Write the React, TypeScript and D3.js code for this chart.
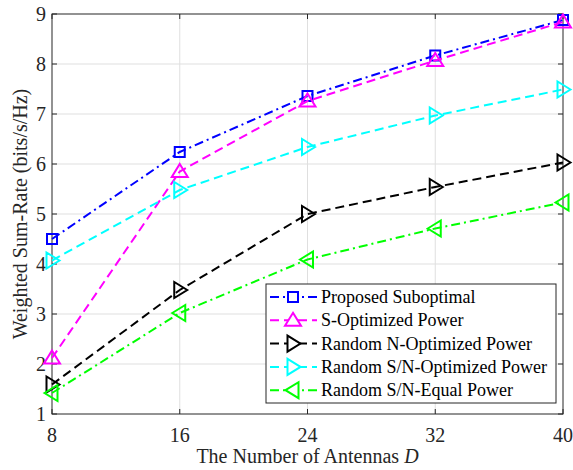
import * as React from 'react';
import * as d3 from 'd3';

const antennas = [8, 16, 24, 32, 40];
const xTicks = [8, 16, 24, 32, 40];
const yTicks = [1, 2, 3, 4, 5, 6, 7, 8, 9];

const proposed = [4.5, 6.24, 7.36, 8.17, 8.88];
const sOptimized = [2.12, 5.85, 7.26, 8.07, 8.84];
const randomN = [1.59, 3.48, 5.0, 5.54, 6.03];
const randomSN = [4.07, 5.48, 6.34, 6.97, 7.49];
const randomEqual = [1.42, 3.02, 4.09, 4.71, 5.23];

const seriesNames = [
  'Proposed Suboptimal',
  'S-Optimized Power',
  'Random N-Optimized Power',
  'Random S/N-Optimized Power',
  'Random S/N-Equal Power',
];

const series = [
  { name: seriesNames[0], values: proposed, color: '#0000ff', dash: '9,4,2,4', marker: 'square' },
  { name: seriesNames[1], values: sOptimized, color: '#ff00ff', dash: '9,5', marker: 'up' },
  { name: seriesNames[2], values: randomN, color: '#000000', dash: '9,5', marker: 'right' },
  { name: seriesNames[3], values: randomSN, color: '#00ffff', dash: '9,5', marker: 'right' },
  { name: seriesNames[4], values: randomEqual, color: '#00ff00', dash: '9,4,2,4', marker: 'left' },
];

const W = 573;
const H = 470;
const m = { left: 52, top: 14, right: 563, bottom: 414 };
const font = '"Liberation Serif", "Times New Roman", serif';

function markerPath(kind: string) {
  const s = 5;
  if (kind === 'square') return `M${-s},${-s}H${s}V${s}H${-s}Z`;
  if (kind === 'up') return 'M0,-7.5L8,5.5L-8,5.5Z';
  if (kind === 'right') return 'M7.5,0L-5.5,-8L-5.5,8Z';
  return 'M-7.5,0L5.5,-8L5.5,8Z';
}

function translate(x: number, y: number) {
  return `translate(${x},${y})`;
}

export default function App() {
  const x = d3.scaleLinear().domain([8, 40]).range([m.left, m.right]);
  const y = d3.scaleLinear().domain([1, 9]).range([m.bottom, m.top]);
  const line = d3
    .line<number>()
    .x((_, i) => x(antennas[i]))
    .y((d) => y(d));

  const legX = 266;
  const legY = 284;
  const legW = 290;
  const legH = 119;
  const rowH = 23.3;

  return (
    <div style={{ position: 'absolute', left: 0, top: 0 }}>
      <svg width={W} height={H} style={{ display: 'block', background: '#fff' }}>
        {/* grid */}
        <g stroke="#dfdfdf" strokeWidth={1}>
          {xTicks.slice(1, -1).map((t) => (
            <line key={'gx' + t} x1={x(t)} x2={x(t)} y1={m.top} y2={m.bottom} />
          ))}
          {yTicks.slice(1, -1).map((t) => (
            <line key={'gy' + t} x1={m.left} x2={m.right} y1={y(t)} y2={y(t)} />
          ))}
        </g>

        {/* box and ticks */}
        <rect x={m.left} y={m.top} width={m.right - m.left} height={m.bottom - m.top}
          fill="none" stroke="#262626" strokeWidth={1} />
        <g stroke="#262626" strokeWidth={1}>
          {xTicks.map((t) => (
            <g key={'tx' + t}>
              <line x1={x(t)} x2={x(t)} y1={m.bottom} y2={m.bottom - 5} />
              <line x1={x(t)} x2={x(t)} y1={m.top} y2={m.top + 5} />
            </g>
          ))}
          {yTicks.map((t) => (
            <g key={'ty' + t}>
              <line x1={m.left} x2={m.left + 5} y1={y(t)} y2={y(t)} />
              <line x1={m.right} x2={m.right - 5} y1={y(t)} y2={y(t)} />
            </g>
          ))}
        </g>
        <g fontFamily={font} fontSize={20} fill="#262626">
          {xTicks.map((t) => (
            <text key={'lx' + t} x={x(t)} y={m.bottom + 28} textAnchor="middle">{t}</text>
          ))}
          {yTicks.map((t) => (
            <text key={'ly' + t} x={m.left - 6} y={y(t) + 7} textAnchor="end">{t}</text>
          ))}
          <text x={(m.left + m.right) / 2} y={463} textAnchor="middle">
            The Number of Antennas <tspan fontStyle="italic">D</tspan>
          </text>
          <text transform={`translate(27,${(m.top + m.bottom) / 2}) rotate(-90)`} textAnchor="middle">
            Weighted Sum-Rate (bits/s/Hz)
          </text>
        </g>

        {/* series */}
        {series.map((s) => (
          <g key={s.name}>
            <path d={line(s.values) || ''} fill="none" stroke={s.color} strokeWidth={2}
              strokeDasharray={s.dash} />
            {s.values.map((v, i) => (
              <path key={i} d={markerPath(s.marker)} transform={translate(x(antennas[i]), y(v))}
                fill="none" stroke={s.color} strokeWidth={2} />
            ))}
          </g>
        ))}

        {/* legend */}
        <rect x={legX} y={legY} width={legW} height={legH} fill="#fff" stroke="#262626" strokeWidth={1} />
        {series.map((s, i) => {
          const cy = legY + 13 + i * rowH;
          return (
            <g key={'leg' + s.name}>
              <line x1={legX + 4} x2={legX + 51} y1={cy} y2={cy} stroke={s.color} strokeWidth={2}
                strokeDasharray={s.dash} />
              <path d={markerPath(s.marker)} transform={translate(legX + 27, cy)} fill="#fff"
                stroke={s.color} strokeWidth={2} />
              <text x={legX + 55} y={cy + 6} fontFamily={font} fontSize={18} fill="#000">{s.name}</text>
            </g>
          );
        })}
      </svg>
    </div>
  );
}
